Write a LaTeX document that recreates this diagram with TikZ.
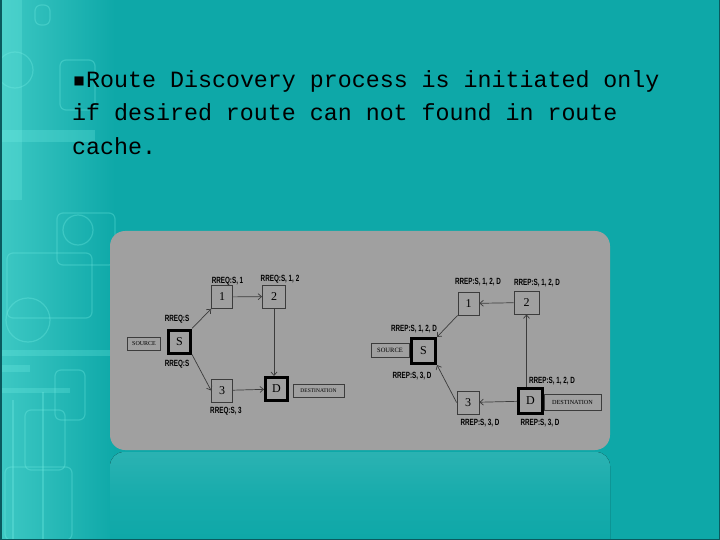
\documentclass[tikz,border=0pt]{standalone}
\usepackage{fontspec}
\setmainfont{Liberation Serif}
\newfontfamily\titlefont{Liberation Mono}
\newfontfamily\bulfont{DejaVu Sans Mono}
\newfontfamily\lblfont[FakeStretch=0.7]{Liberation Sans}
\usetikzlibrary{arrows.meta}
\definecolor{bg}{RGB}{14,168,168}
\definecolor{panel}{RGB}{160,160,160}
\definecolor{deco}{RGB}{120,240,230}
\definecolor{edgec}{RGB}{60,60,60}
\definecolor{frame}{RGB}{10,90,95}
\begin{document}
\begin{tikzpicture}[x=1pt,y=-1pt,
 nd/.style={draw=edgec, line width=0.8pt, fill=panel, minimum width=21pt, minimum height=23pt, inner sep=0pt, font=\fontsize{12}{12}\selectfont},
 thk/.style={draw=black, line width=3pt, minimum width=22pt, minimum height=23pt},
 tag/.style={draw=edgec, line width=0.6pt, fill=panel, inner sep=0pt, font=\fontsize{6}{6}\selectfont},
 lbl/.style={inner sep=0pt, font=\lblfont\bfseries\fontsize{9}{9}\selectfont},
 arr/.style={draw=edgec, line width=0.7pt, -{Straight Barb[length=3.5pt,width=6pt]}},
 decol/.style={draw=deco, line width=1.2pt, opacity=0.3, rounded corners=6pt},
 decob/.style={fill=deco, opacity=0.25}
]
\useasboundingbox (0,0) rectangle (720,540);
\fill[bg] (0,0) rectangle (720,540);
% left decoration
\shade[left color=deco!45!bg, right color=bg] (0,0) rectangle (115,540);
\fill[decob] (0,0) rectangle (22,200);
\fill[decob] (0,130) rectangle (95,142);
\fill[decob] (0,350) rectangle (110,356);
\fill[decob] (0,388) rectangle (70,393);
\fill[decob] (0,365) rectangle (30,372);
\draw[decol] (57,213) rectangle (115,265);
\draw[decol] (7,253) rectangle (92,318);
\draw[decol] (5,467) rectangle (72,540);
\draw[decol] (60,60) rectangle (95,110);
\draw[decol] (55,370) rectangle (85,420);
\draw[decol] (25,410) rectangle (65,470);
\draw[decol] (13,400) -- (13,540);
\draw[decol] (43,392) -- (43,540);
\draw[decol] (78,230) circle (15);
\draw[decol] (28,320) circle (22);
\draw[decol] (15,70) circle (18);
\draw[decol] (35,5) rectangle (50,25);
% reflection
\fill[top color=white!12!bg, bottom color=bg, middle color=white!4!bg] (110,540) -- (110,466) arc[start angle=180, end angle=270, radius=14] -- (596,452) arc[start angle=270, end angle=360, radius=14] -- (610,540) -- cycle;
% frame lines
\draw[frame, line width=1.5pt] (0.75,0) -- (0.75,539.25) -- (719.25,539.25) -- (719.25,0);
% title
\node[anchor=base west, inner sep=0pt, font=\titlefont\fontsize{23.3}{28}\selectfont] (t1) at (72,88) {{\bulfont ▪}Route Discovery process is initiated only};
\node[anchor=base west, inner sep=0pt, font=\titlefont\fontsize{23.3}{28}\selectfont] (t2) at (72,121) {if desired route can not found in route};
\node[anchor=base west, inner sep=0pt, font=\titlefont\fontsize{23.3}{28}\selectfont] (t3) at (72,155) {cache.};
% panel
\fill[panel, rounded corners=15pt] (110,231) rectangle (610,450);

% ---------- left diagram ----------
\node[nd] (a1) at (222,297) {1};
\node[nd, minimum width=23pt] (a2) at (274,296.5) {2};
\node[nd, thk] (aS) at (179.5,341.5) {S};
\node[nd] (a3) at (222,390.5) {3};
\node[nd, thk] (aD) at (276.5,389) {D};
\node[tag, minimum width=33pt, minimum height=13pt] (asrc) at (144,344) {SOURCE};
\node[tag, minimum width=51pt, minimum height=13pt, font=\fontsize{5.5}{6}\selectfont] (adst) at (318.5,390.5) {DESTINATION};
\node[lbl] (la1) at (227.5,281) {RREQ:S, 1};
\node[lbl] (la2) at (280,279) {RREQ:S, 1, 2};
\node[lbl] (laS1) at (177,319) {RREQ:S};
\node[lbl] (laS2) at (177,364) {RREQ:S};
\node[lbl] (la3) at (226,411) {RREQ:S, 3};
\draw[arr] (aS.north east) -- (a1.south west);
\draw[arr] (a1) -- (a2);
\draw[arr] (a2.south) -- (a2.south |- aD.north);
\draw[arr] (aS.south east) -- (a3.west);
\draw[arr] (a3) -- (aD);

% ---------- right diagram ----------
\node[nd] (b1) at (468.5,303.5) {1};
\node[nd, minimum width=25pt] (b2) at (526.5,302.5) {2};
\node[nd, thk, minimum width=24pt, minimum height=25pt] (bS) at (423.5,351) {S};
\node[nd, minimum width=22pt] (b3) at (468,402.5) {3};
\node[nd, thk, minimum width=24pt, minimum height=25pt] (bD) at (530.5,401) {D};
\node[tag, minimum width=38pt, minimum height=14pt, font=\fontsize{6.5}{7}\selectfont] (bsrc) at (390,350) {SOURCE};
\node[tag, minimum width=57pt, minimum height=16pt, font=\fontsize{6.2}{7}\selectfont] (bdst) at (572.5,402) {DESTINATION};
\node[lbl] (lb1) at (478,282) {RREP:S, 1, 2, D};
\node[lbl] (lb2) at (537,283) {RREP:S, 1, 2, D};
\node[lbl] (lbS1) at (414,329) {RREP:S, 1, 2, D};
\node[lbl] (lbS2) at (412,376) {RREP:S, 3, D};
\node[lbl] (lbD1) at (552,381) {RREP:S, 1, 2, D};
\node[lbl] (lb3) at (480,423) {RREP:S, 3, D};
\node[lbl] (lbD2) at (540,423) {RREP:S, 3, D};
\draw[arr] (b2) -- (b1);
\draw[arr] (b1.south west) -- (bS.north east);
\draw[arr] (bD.north -| b2.south) -- (b2.south);
\draw[arr] (bD) -- (b3);
\draw[arr] (b3.west) -- (bS.south east);
\end{tikzpicture}
\end{document}
